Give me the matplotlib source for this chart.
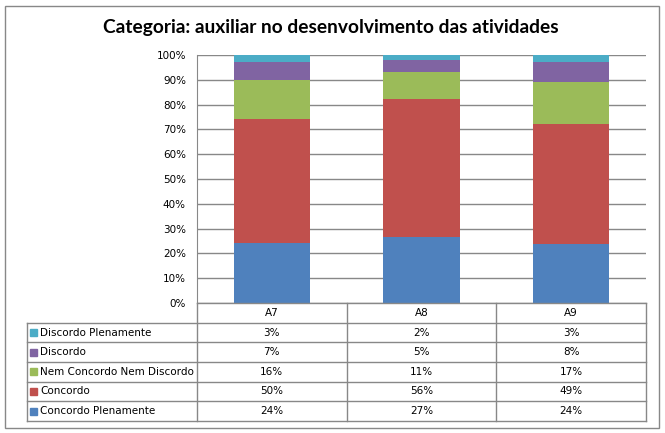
import numpy as np
import matplotlib
matplotlib.use("Agg")
import matplotlib.pyplot as plt
from matplotlib.patches import Rectangle
from matplotlib.ticker import PercentFormatter

# data
categories = ["A7", "A8", "A9"]
series = ["Concordo Plenamente", "Concordo", "Nem Concordo Nem Discordo",
          "Discordo", "Discordo Plenamente"]
concordo_plenamente = [24, 27, 24]
concordo = [50, 56, 49]
nem_nem = [16, 11, 17]
discordo = [7, 5, 8]
discordo_plenamente = [3, 2, 3]
colors = ["#4F81BD", "#C0504D", "#9BBB59", "#8064A2", "#4BACC6"]

values = np.array([concordo_plenamente, concordo, nem_nem, discordo,
                   discordo_plenamente], dtype=float)
shares = values / values.sum(axis=0) * 100  # 100% stacked

W, H = 665, 433
fig = plt.figure(figsize=(W / 100, H / 100), dpi=100)
plt.rcParams['font.family'] = ['DejaVu Sans']
grid_c = "#888888"
fs = 7.5

def px_axes(x0, y0, x1, y1):
    return fig.add_axes([x0 / W, 1 - y1 / H, (x1 - x0) / W, (y1 - y0) / H])

# outer frame
fig.patches.append(Rectangle((5 / W, 1 - 428 / H), 654 / W, 422 / H,
                             transform=fig.transFigure, fill=False,
                             edgecolor=grid_c, linewidth=1))

fig.text(331 / W, 1 - 28 / H, "Categoria: auxiliar no desenvolvimento das atividades",
         ha="center", va="center", fontsize=13.8, fontweight="bold",
         family=["Lato", "DejaVu Sans"])

# bars
ax = px_axes(197, 55, 646, 303)
x = np.arange(len(categories))
bottom = np.zeros(len(categories))
for i, name in enumerate(series):
    ax.bar(x, shares[i], 0.51, bottom=bottom, color=colors[i], label=name,
           zorder=3)
    bottom += shares[i]
ax.set_xlim(-0.5, 2.5)
ax.set_ylim(0, 100)
ax.set_yticks(np.arange(0, 101, 10))
ax.yaxis.set_major_formatter(PercentFormatter(decimals=0))
ax.set_xticks([])
ax.grid(axis="y", color=grid_c, linewidth=1, zorder=0)
for s in ["top", "right", "bottom"]:
    ax.spines[s].set_visible(False)
ax.spines["left"].set_color(grid_c)
ax.tick_params(axis="y", length=0, pad=8, labelsize=fs)

# data table
top_px, bot_px = 303, 421
tax = px_axes(27, top_px, 646, bot_px)
left_edge = -0.5 - 170 / 149.7
tax.set_xlim(left_edge, 2.5)
tax.set_ylim(6, 0)
tax.axis("off")
lk = dict(color=grid_c, linewidth=1, clip_on=False)
for r in range(1, 7):
    tax.plot([left_edge, 2.5], [r, r], **lk)
tax.plot([-0.5, 2.5], [0, 0], **lk)
tax.plot([left_edge, left_edge], [1, 6], **lk)
for c in [-0.5, 0.5, 1.5, 2.5]:
    tax.plot([c, c], [0, 6], **lk)
for j, cat in enumerate(categories):
    tax.text(j, 0.5, cat, ha="center", va="center", fontsize=fs)
# table rows go top-down from the last series
for r, i in enumerate(range(len(series) - 1, -1, -1)):
    yc = r + 1.5
    tax.add_patch(Rectangle((left_edge + 3 / 149.7, yc - 0.18), 7 / 149.7, 0.36,
                            color=colors[i], clip_on=False))
    tax.text(left_edge + 13 / 149.7, yc, series[i], ha="left", va="center",
             fontsize=fs)
    for j in range(len(categories)):
        tax.text(j, yc, f"{values[i, j]:.0f}%", ha="center", va="center",
                 fontsize=fs)

fig.savefig("out.png", dpi=100)
